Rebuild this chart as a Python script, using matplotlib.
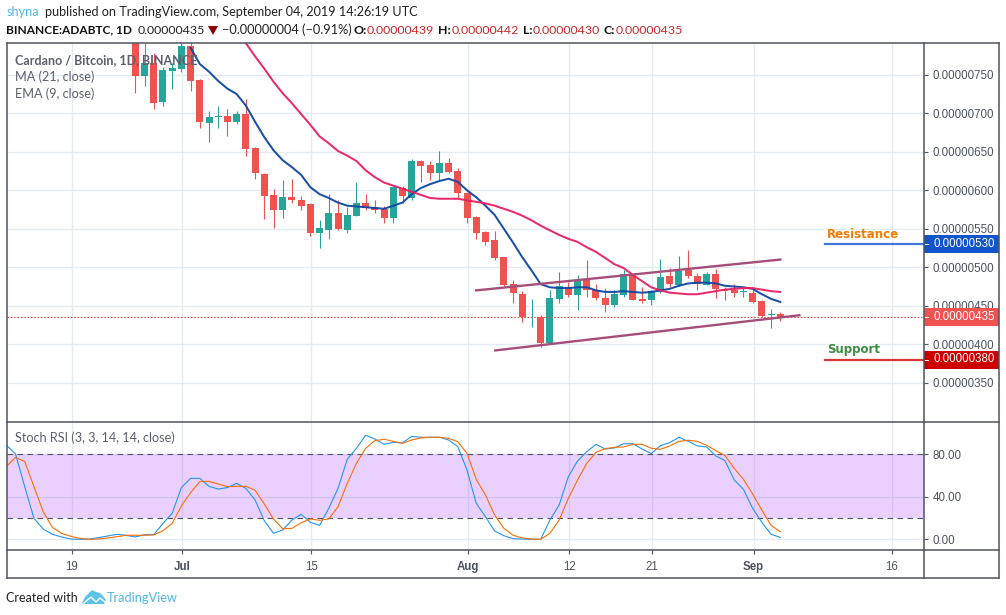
import numpy as np
import pandas as pd
import matplotlib
matplotlib.use("Agg")
import matplotlib.pyplot as plt
from matplotlib.lines import Line2D
from matplotlib.patches import Rectangle, Polygon

W, H = 1006, 615

# prices are in units of 0.00000001 BTC
opens = [810, 749, 765, 715, 755, 758, 787, 743, 688, 695, 697, 689, 699, 655, 621, 594, 575, 591, 587, 582,
         545, 549, 570, 549, 567, 584, 578, 576, 564, 603, 590, 638, 633, 623, 635, 625, 596, 565, 546, 535,
         513, 478, 465, 435, 435, 402, 459, 474, 464, 484, 471, 460, 451, 464, 490, 459, 457, 468, 489, 477,
         496, 489, 477, 491, 472, 471, 468, 467, 456, 438, 439]
highs = [835, 815, 778, 760, 765, 794, 795, 744, 703, 710, 706, 703, 718, 656, 622, 602, 613, 615, 593, 584,
         561, 595, 587, 578, 611, 595, 587, 580, 605, 606, 641, 639, 638, 651, 642, 629, 598, 566, 547, 547,
         514, 484, 469, 459, 438, 471, 494, 481, 490, 510, 478, 473, 470, 496, 493, 474, 471, 511, 499, 515,
         522, 493, 494, 498, 474, 478, 474, 472, 458, 446, 442]
lows = [727, 735, 705, 709, 732, 753, 729, 681, 663, 681, 670, 686, 645, 615, 563, 551, 564, 583, 575, 540,
        525, 537, 549, 545, 566, 574, 571, 557, 558, 584, 588, 611, 613, 612, 622, 590, 558, 537, 529, 509,
        476, 453, 429, 423, 397, 401, 454, 462, 445, 462, 457, 442, 449, 462, 458, 454, 451, 467, 475, 476,
        486, 470, 477, 460, 457, 461, 462, 454, 436, 421, 430]
closes = [748, 765, 714, 756, 759, 787, 742, 689, 695, 697, 689, 699, 654, 622, 593, 574, 591, 587, 580, 544,
          551, 570, 550, 568, 583, 577, 574, 564, 604, 592, 638, 632, 622, 635, 624, 596, 564, 545, 533, 512,
          477, 466, 435, 436, 402, 460, 476, 464, 484, 470, 460, 451, 465, 491, 458, 456, 469, 487, 478, 495,
          489, 478, 491, 472, 469, 467, 469, 455, 437, 439, 435]

# the two averages only come into view partway through the candles
ma_start = 6
ma_vals = [785, 764, 754, 742, 732, 725, 710, 689, 669, 652, 639, 630, 620, 604, 595, 590, 584, 580, 579, 578,
           577, 576, 580, 584, 595, 603, 608, 612, 615, 611, 600, 591, 580, 568, 550, 532, 513, 496, 478, 474,
           473, 473, 474, 474, 470, 468, 468, 469, 468, 467, 468, 470, 472, 476, 479, 480, 480, 479, 476, 475,
           474, 472, 465, 459, 455]
ema_start = 12
ema_vals = [791, 774, 758, 741, 726, 713, 699, 685, 670, 661, 651, 645, 638, 626, 617, 610, 606, 602, 598, 594,
            590, 589, 589, 589, 587, 585, 583, 580, 576, 572, 567, 561, 554, 548, 542, 537, 533, 526, 520, 512,
            504, 499, 490, 482, 474, 470, 467, 466, 465, 465, 467, 469, 471, 472, 473, 473, 471, 469, 468]

# stoch rsi, starts 14 days before the first candle
rsi_k = [88.5, 80, 49.4, 19.7, 9.7, 4.7, 2.2, 0.3, 0, 0.3, 1.6, 3.1, 4.7, 3.8, 2.2, 4.4, 4.4, 15, 24.4, 48.5,
         57.2, 57.2, 49.7, 47.2, 48.5, 52.5, 47.8, 36.9, 17.5, 5.6, 8.8, 18.1, 23.5, 15.9, 13.1, 29.1, 47.8, 75,
         85.4, 97.6, 94.1, 89.1, 91, 90.4, 96.6, 95.7, 95.7, 95.7, 93.2, 86.9, 65, 33.8,
         21.3, 7.8, 3.4, 0.6, 0.3, 0, 0, 18.1, 32.2, 58.8, 73.5, 82.2, 89.1, 84.7, 85.7, 89.7, 89.7, 84.7, 80.4,
         87.9, 90.7, 95.7, 91.9, 87.6, 86.6, 78.2, 73.8, 55.7, 46.9, 29.1, 15.9, 4.7, 1.9]
rsi_d = [68.2, 76.9, 72.9, 49.4, 26, 11.3, 5.6, 2.8, 0.9, 0, 0.3, 1.3, 2.5, 3.8, 3.8, 3.8, 4.1, 8.1, 15, 31.3,
         43.8, 54.1, 54.4, 51.9, 49.4, 49.7, 49.7, 46, 33.1, 19.1, 10, 10.3, 15.6, 19.1, 17.8, 19.1, 30.6, 52.5,
         71.3, 85.4, 92.6, 93.8, 91.9, 90, 93.2, 95.1, 95.7, 95.7, 94.7, 91.6, 80.7, 56.3,
         41.6, 22.8, 10.3, 3.8, 1.3, 0.3, 0, 5.6, 18.1, 38.5, 55.7, 71.3, 81.6, 85.1, 86.3, 86.6, 89.1, 89.1, 85.4,
         84.4, 87.6, 91.9, 92.9, 91.9, 88.2, 83.2, 78.5, 66.6, 56.3, 42.5, 27.5, 13.1, 7.2]

# channel and horizontal levels
upper_dates = ["2019-08-02", "2019-09-04"]
upper_vals = [470, 510]
lower_dates = ["2019-08-04", "2019-09-06"]
lower_vals = [392, 437.7]
resistance = 530
support = 380
last_price = 435

price_ticks = [350, 400, 450, 500, 550, 600, 650, 700, 750]
rsi_ticks = [0, 40, 80]
date_ticks = ["2019-06-19", "2019-07-01", "2019-07-15", "2019-08-01", "2019-08-12", "2019-08-21", "2019-09-01", "2019-09-16"]
date_labels = ["19", "Jul", "15", "Aug", "12", "21", "Sep", "16"]
month_labels = ["Jul", "Aug", "Sep"]

RED = "#ef5350"
GREEN = "#26a69a"
FRAME = "#50535e"
GRID = "#e4ecf2"
AXIS_TXT = "#4c525e"
SANS = "Lato"
AXIS_FONT = "Liberation Sans"


def day(d):
    return (pd.Timestamp(d) - pd.Timestamp("2019-06-19")).days


def fx(x):
    return x / W


def fy(y):
    return 1 - y / H


def px_axes(left, top, right, bottom):
    return fig.add_axes([fx(left), fy(bottom), (right - left) / W, (bottom - top) / H])


def label(x, y, s, **kw):
    kw.setdefault("family", SANS)
    kw.setdefault("va", "center")
    return fig.text(fx(x), fy(y), s, **kw)


def frame_line(x0, y0, x1, y1):
    fig.add_artist(Line2D([fx(x0), fx(x1)], [fy(y0), fy(y1)], color=FRAME, lw=1.1, zorder=4))


def price_box(y, s, color):
    fig.add_artist(Rectangle((fx(924), fy(y + 9)), 75 / W, 18 / H, color=color, lw=0, zorder=2))
    fig.add_artist(Line2D([fx(925), fx(928)], [fy(y), fy(y)], color="white", lw=0.7, zorder=3))
    label(933, y, s, color="white", fontsize=8.3, family=AXIS_FONT)


fig = plt.figure(figsize=(W / 100, H / 100), dpi=100)

dates = pd.date_range("2019-06-26", periods=len(closes))
xs = np.array([(d - pd.Timestamp("2019-06-19")).days for d in dates])
xlim = ((6.5 - 70.8) / 9.214, (924 - 70.8) / 9.214)
tick_x = [day(d) + 0.1 for d in date_ticks]

# --- price pane --- #
ax = px_axes(6.5, 43, 924, 421.5)
ax.set_xlim(xlim)
ax.set_ylim(299.7, 791.3)
ax.set_xticks(tick_x)
ax.set_yticks(price_ticks)
ax.set_yticklabels(["{:.8f}".format(p * 1e-8) for p in price_ticks])
ax.grid(True, color=GRID, lw=1)
ax.set_axisbelow(True)
ax.tick_params(axis="x", length=0, labelbottom=False)
ax.tick_params(axis="y", left=False, labelleft=False, right=True, labelright=True, length=3, width=0.8,
               color=FRAME, labelcolor=AXIS_TXT, labelsize=8.3, pad=3.2)
for lab in ax.get_yticklabels():
    lab.set_family(AXIS_FONT)
for s in ax.spines.values():
    s.set_visible(False)

o = np.array(opens, dtype=float)
c = np.array(closes, dtype=float)
cols = [GREEN if cl >= op else RED for op, cl in zip(o, c)]
ax.vlines(xs, lows, highs, colors=cols, lw=0.8, zorder=2)
ax.bar(xs, np.abs(c - o), bottom=np.minimum(o, c), width=0.76, color=cols, lw=0, zorder=2)

ax.axhline(last_price, color=RED, lw=0.8, ls=(0, (1.5, 1.5)), zorder=3)
ax.plot(xs[ma_start:], ma_vals, color="#0d47a1", lw=1.45, zorder=4, alpha=0.95)
ax.plot(xs[ema_start:], ema_vals, color="#e91e63", lw=1.45, zorder=4, alpha=0.95)
ax.plot([day(d) for d in upper_dates], upper_vals, color="#a64d79", lw=1.7, zorder=5)
ax.plot([day(d) + 0.07 for d in lower_dates], lower_vals, color="#a64d79", lw=1.7, zorder=5)

lvl_x = (825 - 70.8) / 9.214
ax.plot([lvl_x, xlim[1]], [resistance, resistance], color="#1155cc", lw=1.6, alpha=0.8, zorder=5)
ax.plot([lvl_x, xlim[1]], [support, support], color="#cc0000", lw=1.6, alpha=0.8, zorder=5)

# --- stoch rsi pane --- #
ax2 = px_axes(6.5, 421.5, 924, 550)
ax2.set_xlim(xlim)
ax2.set_ylim(-10, 110.5)
ax2.set_xticks(tick_x)
ax2.set_xticklabels(date_labels)
ax2.set_yticks(rsi_ticks)
ax2.set_yticklabels(["{:.2f}".format(v) for v in rsi_ticks])
ax2.grid(True, color=GRID, lw=1)
ax2.set_axisbelow(True)
ax2.tick_params(axis="y", left=False, labelleft=False, right=True, labelright=True, length=3, width=0.8,
                color=FRAME, labelcolor=AXIS_TXT, labelsize=8.3, pad=3.2)
ax2.tick_params(axis="x", length=3, width=0.8, color=FRAME, labelcolor=AXIS_TXT, labelsize=8.3, pad=4.6)
for lab in ax2.get_yticklabels() + ax2.get_xticklabels():
    lab.set_family(AXIS_FONT)
    if lab.get_text() in month_labels:
        lab.set_fontweight("bold")
for s in ax2.spines.values():
    s.set_visible(False)

ax2.axhspan(20, 80, color="#9915ff", alpha=0.2, lw=0)
ax2.axhline(80, color=FRAME, lw=0.8, ls=(0, (5, 4)))
ax2.axhline(20, color=FRAME, lw=0.8, ls=(0, (5, 4)))
rsi_x = np.arange(len(rsi_k)) + xs[0] - 14
ax2.plot(rsi_x, rsi_k, color="#2196f3", lw=0.8)
ax2.plot(rsi_x, rsi_d, color="#ff6d00", lw=0.8)

# --- frame around panes and the price scale --- #
frame_line(6.5, 43, 999, 43)
frame_line(6.5, 421.5, 999, 421.5)
frame_line(6.5, 550, 999, 550)
frame_line(6.5, 578, 999, 578)
frame_line(6.5, 43, 6.5, 578)
frame_line(924, 43, 924, 578)
frame_line(999, 43, 999, 578)

price_box(244, "0.00000530", "#1155cc")
price_box(317, "0.00000435", RED)
price_box(359.5, "0.00000380", "#cc0000")

label(827, 235, "Resistance", color="#f57c00", fontsize=8.5, fontweight="bold", family="DejaVu Sans")
label(827, 349.5, "Support", color="#388e3c", fontsize=8.5, fontweight="bold", family="DejaVu Sans")

# --- header --- #
label(6.5, 12.5, "shyna", color="#4db6e8", fontsize=9.1)
label(45, 12.5, "published on TradingView.com, September 04, 2019 14:26:19 UTC", color="#222222", fontsize=9.1)
label(6.5, 30, "BINANCE:ADABTC, 1D", color="#111111", fontsize=8.6, fontweight="bold")
label(138, 30, "0.00000435", color="#222222", fontsize=8.9)
fig.add_artist(Polygon([(fx(208), fy(26)), (fx(218), fy(26)), (fx(213), fy(35))], color="#8b0000", lw=0))
label(222, 30, "\u22120.00000004 (\u22120.91%)", color="#222222", fontsize=9.2)
for x_key, x_val, key, val in [(353, 367, "O:", "0.00000439"), (438, 452, "H:", "0.00000442"),
                               (523, 533, "L:", "0.00000430"), (604, 616, "C:", "0.00000435")]:
    label(x_key, 30, key, color="#111111", fontsize=8.9, fontweight="bold")
    label(x_val, 30, val, color="#c62828", fontsize=8.9)

# --- pane legends --- #
label(15, 60, "Cardano / Bitcoin, 1D, BINANCE", color="#5d606b", fontsize=9, fontweight="bold", zorder=6)
label(15, 77, "MA (21, close)", color="#5d606b", fontsize=9.1, zorder=6)
label(15, 94, "EMA (9, close)", color="#5d606b", fontsize=9.1, zorder=6)
label(15, 438, "Stoch RSI (3, 3, 14, 14, close)", color="#5d606b", fontsize=9.1, zorder=6)

# --- footer --- #
label(6.5, 598, "Created with", color="#222222", fontsize=9)
logo = [(82, 603), (85, 597), (89, 593), (92, 590), (96, 592), (100, 593), (103, 596), (106, 600), (104, 604), (84, 604)]
fig.add_artist(Polygon([(fx(a), fy(b)) for a, b in logo], color="#5bc2e7", lw=0))
fig.add_artist(Line2D([fx(a) for a in (84, 91, 96, 100, 105)], [fy(b) for b in (603, 597, 602, 598, 602)],
                      color="white", lw=1))
label(107, 598, "TradingView", color="#4db6e8", fontsize=9.2)

fig.savefig("out.png", dpi=100)
